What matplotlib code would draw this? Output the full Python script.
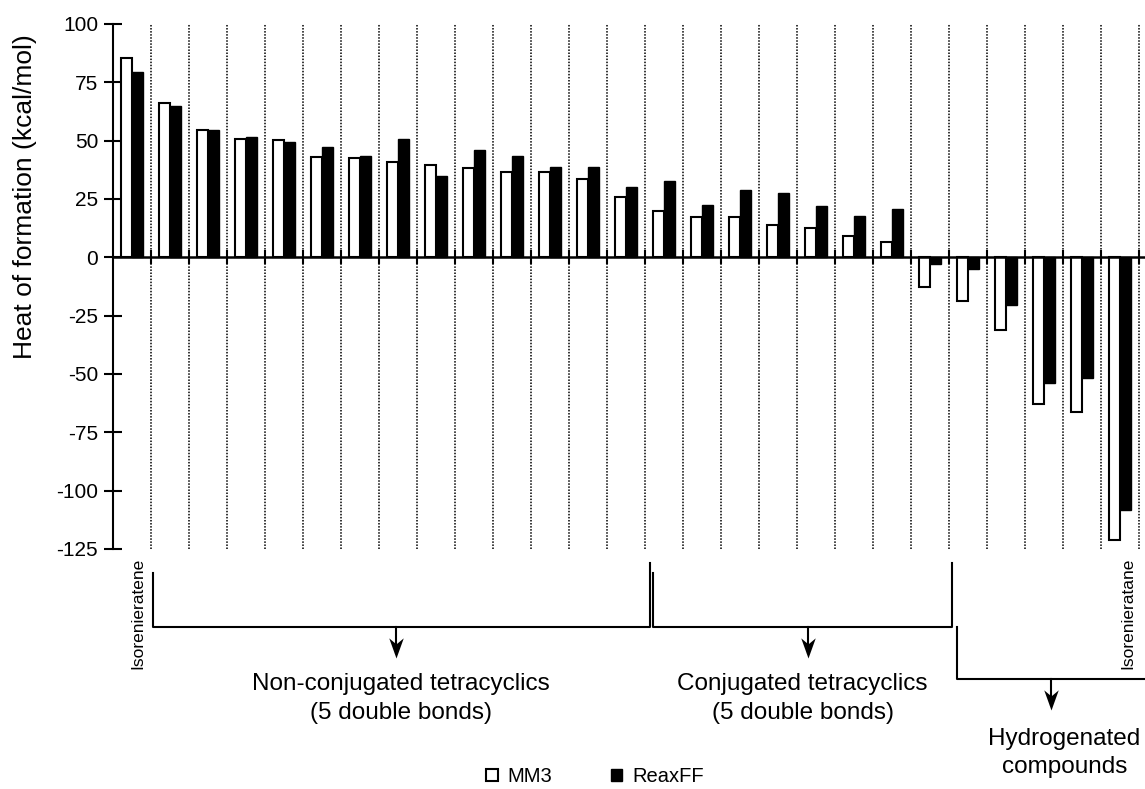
import numpy as np
import matplotlib
matplotlib.use('Agg')
import matplotlib.pyplot as plt
from matplotlib.path import Path

plt.rcParams['font.family'] = ['Liberation Sans', 'DejaVu Sans']

# Heat of formation values (kcal/mol), one pair per compound
mm3 = [85.5, 66.3, 54.6, 50.8, 50.1, 43.1, 42.6, 41.0, 39.7, 38.1, 36.7, 36.4, 33.6, 25.8,
       20.0, 17.3, 17.1, 14.0, 12.7, 9.3, 6.7, -12.6, -18.9, -31.2, -62.7, -66.3, -121.2]
reaxff = [79.4, 65.0, 54.7, 51.6, 49.4, 47.1, 43.6, 50.6, 35.0, 45.9, 43.5, 38.8, 38.6, 30.0,
          32.8, 22.5, 28.8, 27.4, 21.9, 17.7, 20.5, -3.0, -5.1, -20.6, -54.0, -51.7, -108.3]
series_names = ['MM3', 'ReaxFF']
y_ticks = [100, 75, 50, 25, 0, -25, -50, -75, -100, -125]

# compound groups shown under the axis: (label, x start, x end, arrow x, level)
groups = [
    ('Non-conjugated tetracyclics\n(5 double bonds)', 1.05, 14.14, 7.46, 0),
    ('Conjugated tetracyclics\n(5 double bonds)', 14.23, 22.09, 18.3, 0),
    ('Hydrogenated\ncompounds', 22.22, 27.17, 24.7, 1),
]

n = len(mm3)
x = np.arange(n) + 0.5
w = 0.29

fig = plt.figure(figsize=(11.45, 7.89), dpi=100)
ax = fig.add_axes([0.0984, 0.3042, 0.9016, 0.6654])

b1 = ax.bar(x - w / 2, mm3, w, color='white', edgecolor='black', linewidth=1.5, zorder=3,
            label=series_names[0])
b2 = ax.bar(x + w / 2, reaxff, w, color='black', edgecolor='black', linewidth=1.0, zorder=3,
            label=series_names[1])

# dotted separators between compounds
for i in range(1, n + 1):
    ax.axvline(i, color='black', linestyle=(0, (1, 1)), linewidth=1.1, zorder=1)

ax.set_xlim(0, 27.17)
ax.set_ylim(-125, 100)
ax.set_yticks(y_ticks)
ax.set_yticklabels([str(v) for v in y_ticks], fontsize=15)
ax.set_ylabel('Heat of formation (kcal/mol)', fontsize=19)
ax.yaxis.label.set_verticalalignment('center')
ax.yaxis.set_label_coords(-0.085, 0.672)

for s in ['top', 'right']:
    ax.spines[s].set_visible(False)
ax.spines['left'].set_linewidth(1.5)
ax.spines['bottom'].set_position(('data', 0))
ax.spines['bottom'].set_linewidth(1.8)
ax.spines['bottom'].set_zorder(4)
ax.set_xticks(np.arange(1, n + 1))
ax.set_xticklabels([])
ax.tick_params(axis='y', direction='inout', length=13, width=1.5, pad=4)
ax.tick_params(axis='x', direction='inout', length=10, width=1.5)

# brackets and arrows below the axis (x in data, y in axes fraction)
tr = ax.get_xaxis_transform()
lw = 1.5
y_top_hi = -0.0261
y_top_lo = -0.0457
y_mid = -0.1486
y_low = -0.2482

label, x0, x1, xa, lvl = groups[0]
ax.plot([x0, x0, x1, x1], [y_top_lo, y_mid, y_mid, y_top_hi], color='black', lw=lw,
        transform=tr, clip_on=False)
label, x0, x1, xa, lvl = groups[1]
ax.plot([x0, x0, x1, x1], [y_top_lo, y_mid, y_mid, y_top_hi], color='black', lw=lw,
        transform=tr, clip_on=False)
label, x0, x1, xa, lvl = groups[2]
ax.plot([x0, x0, x1], [y_mid, y_low, y_low], color='black', lw=lw,
        transform=tr, clip_on=False)

# stealth-style arrow head, tip at the origin
head = Path([(0, 0), (-0.36, 1), (0, 0.7), (0.36, 1), (0, 0)],
            [Path.MOVETO, Path.LINETO, Path.LINETO, Path.LINETO, Path.CLOSEPOLY])

for label, x0, x1, xa, lvl in groups:
    ys = y_mid if lvl == 0 else y_low
    tip = ys - 0.059
    ax.plot([xa, xa], [ys, tip + 0.01], color='black', lw=lw, transform=tr, clip_on=False)
    ax.plot([xa], [tip], marker=head, ms=29, color='black', mew=0, transform=tr,
            clip_on=False)
    ty = -0.285 if lvl == 0 else -0.389
    ax.text((x0 + x1) / 2 if lvl == 0 else xa + 0.35, ty, label, transform=tr,
            ha='center', va='center', fontsize=17.5, linespacing=1.38)

ax.text(0.67, -0.017, 'Isorenieratene', transform=tr, rotation=90, ha='center', va='top',
        fontsize=12.5)
ax.text(26.72, -0.017, 'Isorenieratane', transform=tr, rotation=90, ha='center', va='top',
        fontsize=12.5)

fig.legend(handles=[b1, b2], labels=series_names, loc='center', ncol=2, frameon=False,
           bbox_to_anchor=(595 / 1145, 1 - 777 / 789), fontsize=14.5,
           handlelength=0.55, handleheight=0.55, handletextpad=0.5, columnspacing=2.9)

fig.savefig('out.png', dpi=100)
